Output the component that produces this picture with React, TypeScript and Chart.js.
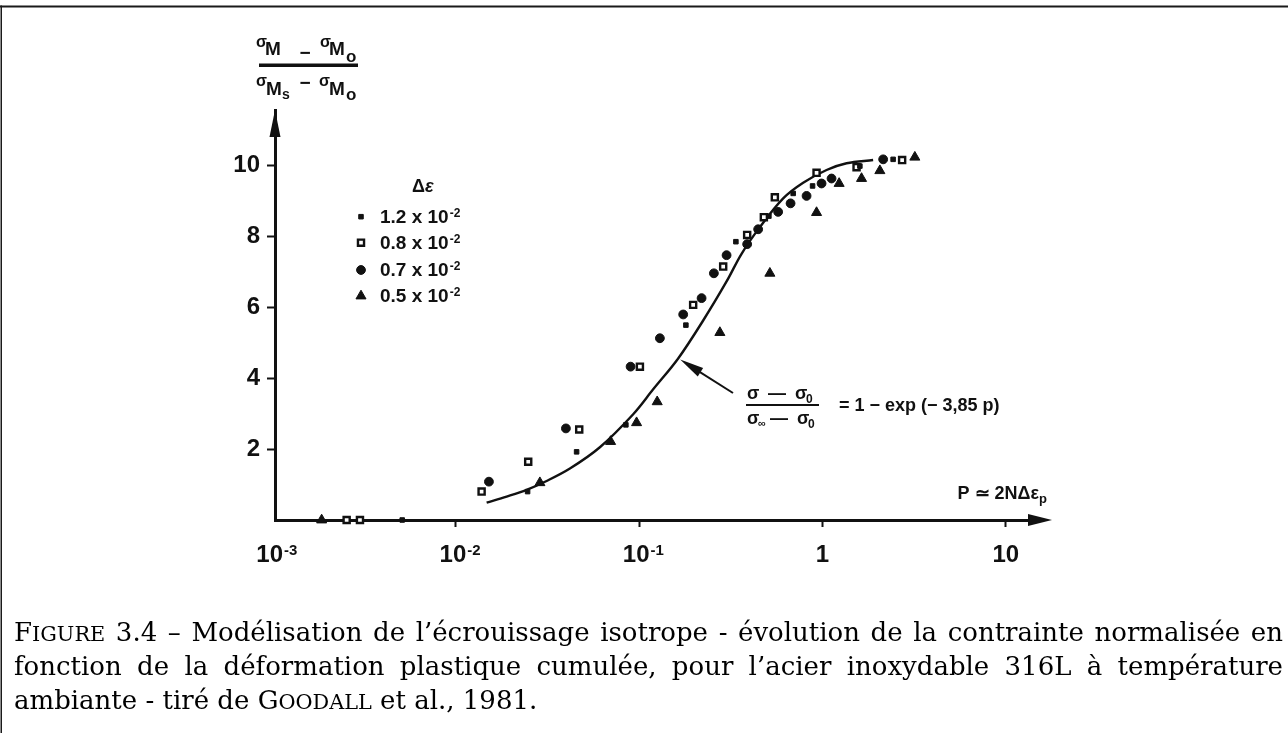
import React, { useEffect, useRef } from 'react';
import { Chart, registerables } from 'chart.js';
import { drawPoint } from 'chart.js/helpers';

Chart.register(...registerables);

// ---------- data ----------
const X_TICK_VALUES = [0.01, 0.1, 1, 10];
const X_LABEL_VALUES = [0.001, 0.01, 0.1, 1, 10];
const X_LABEL_BASES = ['10', '10', '10', '1', '10'];
const X_LABEL_EXPONENTS = ['-3', '-2', '-1', '', ''];
const Y_TICK_VALUES = [2, 4, 6, 8, 10];

const LEGEND_VALUES = ['1.2', '0.8', '0.7', '0.5'];

// Δε = 1.2e-2 (small filled squares)
const P_12 = [0.005093, 0.02461, 0.04555, 0.0846, 0.1798, 0.337, 0.5101, 0.6922, 0.8831, 1.6, 2.43];
const V_12 = [0, 0.8, 1.92, 2.68, 5.49, 7.84, 8.56, 9.2, 9.41, 9.97, 10.16];
// Δε = 0.8e-2 (open squares)
const P_08 = [0.002534, 0.002995, 0.01381, 0.0248, 0.04708, 0.1009, 0.197, 0.2873, 0.3883, 0.4789, 0.5498, 0.9286, 1.535, 2.721];
const V_08 = [0, 0, 0.8, 1.64, 2.55, 4.32, 6.06, 7.14, 8.03, 8.53, 9.09, 9.78, 9.94, 10.14];
// Δε = 0.7e-2 (filled circles)
const P_07 = [0.01514, 0.03983, 0.08976, 0.1297, 0.1738, 0.219, 0.2556, 0.2998, 0.3883, 0.4458, 0.5731, 0.6699, 0.819, 0.9888, 1.121, 2.144];
const V_07 = [1.08, 2.58, 4.32, 5.12, 5.79, 6.25, 6.95, 7.46, 7.77, 8.19, 8.68, 8.92, 9.13, 9.48, 9.62, 10.16];
// Δε = 0.5e-2 (filled triangles)
const P_05 = [0.001851, 0.02872, 0.06982, 0.09678, 0.1254, 0.2756, 0.5165, 0.9286, 1.233, 1.634, 2.057, 3.192];
const V_05 = [0, 1.05, 2.21, 2.74, 3.33, 5.28, 6.95, 8.66, 9.48, 9.62, 9.84, 10.22];

// fitted curve
const CURVE_P = [0.01471, 0.01891, 0.0243, 0.03125, 0.04188, 0.06103, 0.09275, 0.1192, 0.1632, 0.2234, 0.2998, 0.3619, 0.4556, 0.6105, 0.7847, 1.053, 1.354, 1.89];
const CURVE_V = [0.49, 0.66, 0.85, 1.1, 1.45, 2.05, 2.98, 3.68, 4.55, 5.62, 6.72, 7.5, 8.25, 9.06, 9.5, 9.86, 10.05, 10.14];

// point on the curve the formula arrow points at
const ARROW_P = 0.1632;
const ARROW_V = 4.55;

const CAPTION_LINES = [
  '^Figure 3.4 – Modélisation de l’écrouissage isotrope - évolution de la contrainte normalisée en',
  'fonction de la déformation plastique cumulée, pour l’acier inoxydable 316L à température',
  'ambiante - tiré de ^Goodall et al., 1981.',
];

// ---------- styles ----------
const INK = '#111';
const SANS = '"Liberation Sans", Arial, sans-serif';
const SERIF = '"DejaVu Serif", "Liberation Serif", serif';

const MARKERS = [
  { pointStyle: 'rect', radius: 3.2, borderWidth: 1, bg: INK },
  { pointStyle: 'rect', radius: 4.3, borderWidth: 2.4, bg: '#fff' },
  { pointStyle: 'circle', radius: 4.4, borderWidth: 1, bg: INK },
  { pointStyle: 'triangle', radius: 5.8, borderWidth: 1, bg: INK },
];

const SERIES = [
  [P_12, V_12],
  [P_08, V_08],
  [P_07, V_07],
  [P_05, V_05],
];

function sans(size: number, weight = 'bold', style = 'normal') {
  return `${style} ${weight} ${size}px ${SANS}`;
}

type Run = { t: string; size: number; dx?: number; dy?: number; italic?: boolean };

function drawRuns(ctx: CanvasRenderingContext2D, runs: Run[], x: number, y: number) {
  let cx = x;
  for (const r of runs) {
    cx += r.dx || 0;
    ctx.font = sans(r.size, 'bold', r.italic ? 'italic' : 'normal');
    ctx.fillText(r.t, cx, y + (r.dy || 0));
    cx += ctx.measureText(r.t).width;
  }
  return cx;
}

function runsWidth(ctx: CanvasRenderingContext2D, runs: Run[]) {
  let w = 0;
  for (const r of runs) {
    w += r.dx || 0;
    ctx.font = sans(r.size, 'bold', r.italic ? 'italic' : 'normal');
    w += ctx.measureText(r.t).width;
  }
  return w;
}

function capWordWidth(ctx: CanvasRenderingContext2D, w: string, size: number) {
  if (w.startsWith('^')) {
    const s = w.slice(1);
    ctx.font = `${size}px ${SERIF}`;
    let a = ctx.measureText(s[0]).width;
    ctx.font = `${size * 0.8}px ${SERIF}`;
    a += ctx.measureText(s.slice(1).toUpperCase()).width;
    return a;
  }
  ctx.font = `${size}px ${SERIF}`;
  return ctx.measureText(w).width;
}

function drawCapWord(ctx: CanvasRenderingContext2D, w: string, x: number, y: number, size: number) {
  if (w.startsWith('^')) {
    const s = w.slice(1);
    ctx.font = `${size}px ${SERIF}`;
    ctx.fillText(s[0], x, y);
    const a = ctx.measureText(s[0]).width;
    ctx.font = `${size * 0.8}px ${SERIF}`;
    ctx.fillText(s.slice(1).toUpperCase(), x + a, y);
    return;
  }
  ctx.font = `${size}px ${SERIF}`;
  ctx.fillText(w, x, y);
}

function arrowHead(ctx: CanvasRenderingContext2D, tx: number, ty: number, fx: number, fy: number, len: number, half: number) {
  const dx = tx - fx;
  const dy = ty - fy;
  const d = Math.hypot(dx, dy);
  const ux = dx / d;
  const uy = dy / d;
  const bx = tx - ux * len;
  const by = ty - uy * len;
  ctx.beginPath();
  ctx.moveTo(tx, ty);
  ctx.lineTo(bx - uy * half, by + ux * half);
  ctx.lineTo(bx + uy * half, by - ux * half);
  ctx.closePath();
  ctx.fill();
}

const decorPlugin = {
  id: 'decor',
  beforeDraw(chart: any) {
    const ctx: CanvasRenderingContext2D = chart.ctx;
    ctx.save();
    ctx.fillStyle = '#fff';
    ctx.fillRect(0, 0, chart.width, chart.height);
    ctx.fillStyle = '#1a1a1a';
    ctx.fillRect(0, 5.5, chart.width, 2);
    ctx.fillRect(0.5, 5.5, 1.5, chart.height);
    ctx.restore();
  },
  afterDraw(chart: any) {
    const ctx: CanvasRenderingContext2D = chart.ctx;
    const xs = chart.scales.x;
    const ys = chart.scales.y;
    const area = chart.chartArea;
    ctx.save();
    ctx.fillStyle = INK;
    ctx.strokeStyle = INK;
    ctx.textBaseline = 'alphabetic';
    ctx.textAlign = 'left';

    // axis arrow heads
    arrowHead(ctx, area.left, area.top, area.left, area.top + 50, 27, 5.5);
    arrowHead(ctx, area.right + 14, area.bottom, area.left, area.bottom, 24, 6);

    // x tick labels with exponents
    X_LABEL_VALUES.forEach((v, i) => {
      const px = xs.getPixelForValue(v);
      const base = X_LABEL_BASES[i];
      const ex = X_LABEL_EXPONENTS[i];
      ctx.font = sans(24);
      const wb = ctx.measureText(base).width;
      if (ex) {
        const sx = px - 3 - wb / 2;
        ctx.fillText(base, sx, 562);
        ctx.font = sans(15);
        ctx.fillText(ex, sx + wb + 1, 555);
      } else {
        ctx.fillText(base, px - wb / 2, 562);
      }
    });

    // y axis title (fraction)
    const fr = (t: string, size: number, x: number, y: number) => {
      ctx.font = sans(size);
      ctx.fillText(t, x, y);
    };
    fr('σ', 16, 256, 47);
    fr('M', 19, 265, 55);
    ctx.textBaseline = 'middle';
    ctx.textAlign = 'center';
    ctx.font = sans(19);
    ctx.fillText('−', 305, 53.5);
    ctx.fillText('−', 305, 83.5);
    ctx.textBaseline = 'alphabetic';
    ctx.textAlign = 'left';
    fr('σ', 16, 320, 47);
    fr('M', 19, 329, 55);
    fr('o', 17, 346, 62);
    ctx.fillRect(259, 63.5, 99, 3.5);
    fr('σ', 16, 256, 86);
    fr('M', 19, 266, 95);
    fr('s', 14, 282, 99);
    fr('σ', 16, 319, 86);
    fr('M', 19, 329, 95);
    fr('o', 17, 346, 100);

    // legend
    drawRuns(ctx, [{ t: 'Δ', size: 18 }, { t: 'ε', size: 18, italic: true }], 412, 192);
    const rowsY = [216.7, 242.7, 270, 296];
    LEGEND_VALUES.forEach((lab, i) => {
      const m = MARKERS[i];
      ctx.fillStyle = m.bg;
      ctx.strokeStyle = INK;
      ctx.lineWidth = m.borderWidth;
      drawPoint(ctx, { pointStyle: m.pointStyle as any, radius: m.radius, rotation: 0, borderWidth: m.borderWidth }, 361, rowsY[i]);
      ctx.fillStyle = INK;
      drawRuns(ctx, [{ t: `${lab} x 10`, size: 19 }, { t: '-2', size: 12, dx: 1, dy: -6 }], 380, rowsY[i] + 6);
    });

    // formula arrow
    const tipX = xs.getPixelForValue(ARROW_P) + 2;
    const tipY = ys.getPixelForValue(ARROW_V) + 1;
    const tailX = 733;
    const tailY = 393;
    ctx.lineWidth = 2;
    ctx.beginPath();
    ctx.moveTo(tailX, tailY);
    ctx.lineTo(tipX + (tailX - tipX) * 0.3, tipY + (tailY - tipY) * 0.3);
    ctx.stroke();
    arrowHead(ctx, tipX, tipY, tailX, tailY, 24, 5);

    // formula
    ctx.font = sans(18);
    ctx.fillText('σ', 747, 399);
    ctx.fillText('—', 768, 399);
    ctx.fillText('σ', 795, 399);
    ctx.font = sans(12);
    ctx.fillText('0', 806, 403);
    ctx.fillRect(746, 404, 73, 2);
    ctx.font = sans(18);
    ctx.fillText('σ', 747, 424);
    ctx.font = sans(11);
    ctx.fillText('∞', 758, 427);
    ctx.font = sans(18);
    ctx.fillText('—', 770, 424);
    ctx.fillText('σ', 797, 424);
    ctx.font = sans(12);
    ctx.fillText('0', 808, 428);
    ctx.font = sans(18);
    ctx.fillText('= 1 − exp (− 3,85 p)', 839, 411);

    // x axis title
    const pRuns: Run[] = [{ t: 'P ≃ 2NΔε', size: 18 }, { t: 'p', size: 13, dy: 4 }];
    const pw = runsWidth(ctx, pRuns);
    drawRuns(ctx, pRuns, 1047 - pw, 499);

    // caption
    ctx.fillStyle = '#000';
    const left = 14;
    const right = 1283;
    const W = right - left;
    const baselines = [641, 675, 709];
    const lines = CAPTION_LINES.map((l) => l.split(' '));
    ctx.font = `24px ${SERIF}`;
    const sp24 = ctx.measureText(' ').width;
    let size = 26;
    [0, 1].forEach((i) => {
      const ws = lines[i].reduce((a, w) => a + capWordWidth(ctx, w, 24), 0);
      const nat = ws + sp24 * (lines[i].length - 1);
      size = Math.min(size, (24 * W) / nat);
    });
    lines.forEach((words, i) => {
      const widths = words.map((w) => capWordWidth(ctx, w, size));
      const sum = widths.reduce((a, b) => a + b, 0);
      ctx.font = `${size}px ${SERIF}`;
      const sp = ctx.measureText(' ').width;
      const gap = i < lines.length - 1 ? (W - sum) / (words.length - 1) : sp;
      let x = left;
      words.forEach((w, j) => {
        drawCapWord(ctx, w, x, baselines[i], size);
        x += widths[j] + gap;
      });
    });

    ctx.restore();
  },
};

export default function App() {
  const ref = useRef<HTMLCanvasElement>(null);
  useEffect(() => {
    if (!ref.current) return;
    const datasets: any[] = SERIES.map(([p, v], i) => ({
      label: `${LEGEND_VALUES[i]} x 10-2`,
      data: p.map((x, j) => ({ x, y: v[j] })),
      showLine: false,
      pointStyle: MARKERS[i].pointStyle,
      pointRadius: MARKERS[i].radius,
      pointBorderWidth: MARKERS[i].borderWidth,
      pointBackgroundColor: MARKERS[i].bg,
      pointBorderColor: INK,
      clip: false,
    }));
    datasets.push({
      label: 'fit',
      data: CURVE_P.map((x, j) => ({ x, y: CURVE_V[j] })),
      showLine: true,
      pointRadius: 0,
      borderColor: INK,
      borderWidth: 2.4,
      tension: 0.35,
      fill: false,
      clip: false,
    });
    const chart = new Chart(ref.current, {
      type: 'scatter',
      data: { datasets },
      options: {
        animation: false,
        responsive: false,
        maintainAspectRatio: false,
        events: [],
        layout: { padding: { left: 0, right: 250, top: 110, bottom: 0 } },
        plugins: {
          legend: { display: false },
          tooltip: { enabled: false },
          title: { display: false },
        },
        scales: {
          x: {
            type: 'logarithmic',
            min: 0.00103,
            max: 15,
            afterBuildTicks: (s: any) => {
              s.ticks = X_TICK_VALUES.map((value) => ({ value }));
            },
            afterFit: (s: any) => {
              s.height = 213;
            },
            ticks: { display: false },
            grid: { display: true, drawOnChartArea: false, drawTicks: true, tickLength: 7, tickWidth: 2, tickColor: INK },
            border: { display: true, width: 3, color: INK },
          },
          y: {
            type: 'linear',
            min: 0,
            max: 11.55,
            afterBuildTicks: (s: any) => {
              s.ticks = Y_TICK_VALUES.map((value) => ({ value }));
            },
            afterFit: (s: any) => {
              s.width = 275;
            },
            ticks: { color: INK, padding: 7, font: { family: SANS, size: 24, weight: 'bold' } },
            grid: { display: true, drawOnChartArea: false, drawTicks: true, tickLength: 8, tickWidth: 2, tickColor: INK },
            border: { display: true, width: 3, color: INK },
          },
        },
      } as any,
      plugins: [decorPlugin],
    });
    return () => chart.destroy();
  }, []);
  return (
    <div style={{ position: 'absolute', left: 0, top: 0, width: 1288, height: 733, background: '#fff' }}>
      <canvas ref={ref} width={1288} height={733} style={{ display: 'block', width: 1288, height: 733 }} />
    </div>
  );
}
